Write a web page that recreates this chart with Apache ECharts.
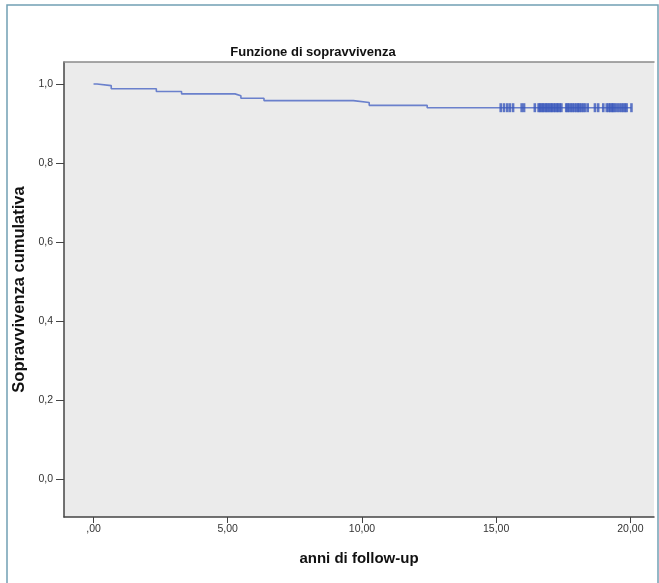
<!DOCTYPE html>
<html>
<head>
<meta charset="utf-8">
<script src="https://cdn.jsdelivr.net/npm/echarts@6/dist/echarts.min.js"></script>
<style>
html,body{margin:0;padding:0;background:#fff;}
#chart{width:659px;height:583px;}
</style>
</head>
<body>
<div id="chart"></div>
<script>
// Kaplan-Meier step curve: event times (years) and survival after each step
const eventTimes = [0, 0.13, 0.66, 2.34, 3.28, 5.27, 5.49, 6.35, 9.68, 10.27, 12.43, 20.04];
const survival   = [1.0, 0.996, 0.988, 0.981, 0.975, 0.970, 0.964, 0.958, 0.953, 0.946, 0.940, 0.940];
// censored observations (years)
const censoredTimes = [15.17, 15.29, 15.41, 15.51, 15.63, 15.95, 16.04, 16.44,
  16.58, 16.63, 16.69, 16.74, 16.80, 16.86, 16.91, 16.97, 17.03, 17.08, 17.14, 17.20, 17.26, 17.31, 17.37, 17.43,
  17.61, 17.66, 17.72, 17.79, 17.85, 17.92, 17.99, 18.05, 18.10, 18.17, 18.24, 18.31, 18.41,
  18.68, 18.80, 18.99, 19.12, 19.19, 19.25, 19.31, 19.36, 19.42, 19.50, 19.58, 19.66, 19.73, 19.80, 19.86, 20.04];
const censoredSurvival = 0.940;
const xTicks = [0, 5, 10, 15, 20];
const yTicks = [0, 0.2, 0.4, 0.6, 0.8, 1.0];
const titleText = 'Funzione di sopravvivenza';
const xName = 'anni di follow-up';
const yName = 'Sopravvivenza cumulativa';

const font = '"Liberation Sans", Arial, sans-serif';
const chart = echarts.init(document.getElementById('chart'), null, {renderer: 'canvas'});

const lineData = eventTimes.map((t, i) => [t, survival[i]]);
const censData = censoredTimes.map(t => [t, censoredSurvival]);

chart.setOption({
  animation: false,
  backgroundColor: '#ffffff',
  title: {
    text: titleText,
    left: 308, top: 41, textAlign: 'center',
    textStyle: {fontFamily: font, fontSize: 13, fontWeight: 'bold', color: '#111'}
  },
  graphic: [{
    type: 'rect', silent: true, z: -1,
    shape: {x: 7, y: 5, width: 651, height: 600},
    style: {fill: 'none', stroke: '#72a0b4', lineWidth: 1.5}
  }],
  grid: {
    left: 64, top: 62, width: 590, height: 455,
    show: true, backgroundColor: '#ebebeb', borderWidth: 0
  },
  xAxis: [{
    type: 'value', min: -1.1, max: 20.88,
    axisLine: {show: true, onZero: false, lineStyle: {color: '#444', width: 1.5}},
    axisTick: {show: true, length: 6, customValues: xTicks, lineStyle: {color: '#444'}},
    axisLabel: {
      customValues: xTicks, margin: 7, color: '#333', fontFamily: font, fontSize: 10.5,
      formatter: v => v === 0 ? ',00' : v.toFixed(2).replace('.', ',')
    },
    splitLine: {show: false},
    name: xName, nameLocation: 'middle', nameGap: 34,
    nameTextStyle: {fontFamily: font, fontSize: 15, fontWeight: 'bold', color: '#111'}
  }, {
    type: 'value', position: 'top', min: -1.1, max: 20.88,
    axisLine: {show: true, onZero: false, lineStyle: {color: '#8a8a8a', width: 1.5}},
    axisTick: {show: false}, axisLabel: {show: false}, splitLine: {show: false}
  }],
  yAxis: {
    type: 'value', min: -0.0962, max: 1.0557,
    axisLine: {show: true, onZero: false, lineStyle: {color: '#444', width: 1.5}},
    axisTick: {show: true, length: 8, customValues: yTicks, lineStyle: {color: '#444'}},
    axisLabel: {
      customValues: yTicks, margin: 11, color: '#333', fontFamily: font, fontSize: 10.5,
      formatter: v => v.toFixed(1).replace('.', ',')
    },
    splitLine: {show: false},
    name: yName, nameLocation: 'middle', nameGap: 36, nameRotate: 90,
    nameTextStyle: {fontFamily: font, fontSize: 16.5, fontWeight: 'bold', color: '#111'}
  },
  series: [{
    type: 'line', step: 'end', data: lineData, showSymbol: false, symbol: 'none',
    lineStyle: {color: '#6a80cc', width: 1.6}, z: 2
  }, {
    type: 'scatter', data: censData, symbol: 'rect', symbolSize: [2.6, 9],
    itemStyle: {color: '#3a58bb'}, z: 3
  }]
});
</script>
</body>
</html>
